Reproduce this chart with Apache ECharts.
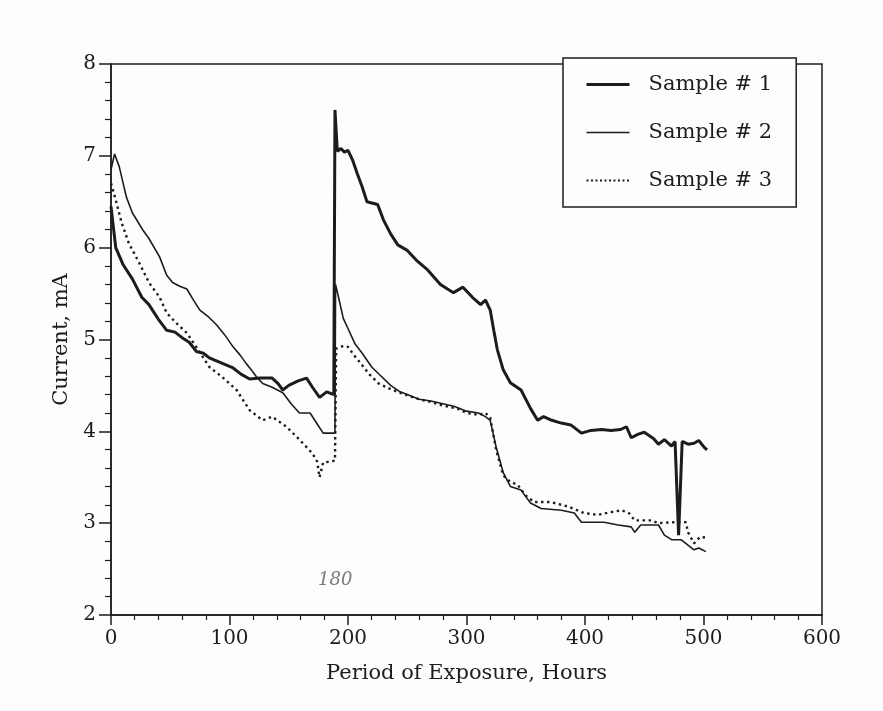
<!DOCTYPE html>
<html>
<head>
<meta charset="utf-8">
<script src="https://cdn.jsdelivr.net/npm/echarts@6/dist/echarts.min.js"></script>
<style>
  html, body { margin: 0; padding: 0; background: #fdfdfd; }
  #chart { width: 883px; height: 711px; }
</style>
</head>
<body>
<div id="chart"></div>
<script>
// hours / current (mA)
const s1Hours = [0, 4, 10, 18, 26, 32, 40, 47, 54, 60, 66, 72, 78, 83, 92, 103, 110, 117, 126, 136, 141, 145, 150, 158, 165, 170, 176, 182, 188, 189, 191, 194, 197, 200, 204, 208, 212, 216, 225, 230, 236, 242, 250, 258, 267, 278, 284, 289, 297, 305, 312, 316, 320, 323, 326, 331, 337, 346, 354, 360, 365, 372, 380, 388, 397, 405, 414, 422, 430, 435, 439, 445, 450, 458, 462, 467, 473, 476, 479, 482, 487, 492, 496, 501, 503];
const s1Current = [6.45, 6.0, 5.82, 5.66, 5.46, 5.38, 5.22, 5.1, 5.08, 5.02, 4.97, 4.87, 4.85, 4.8, 4.75, 4.69, 4.62, 4.57, 4.58, 4.58, 4.52, 4.45, 4.5, 4.55, 4.58, 4.48, 4.37, 4.43, 4.4, 7.5, 7.05, 7.08, 7.04, 7.06, 6.95, 6.8, 6.66, 6.5, 6.47, 6.3, 6.15, 6.03, 5.97, 5.86, 5.76, 5.6, 5.55, 5.51, 5.57, 5.46, 5.38, 5.43, 5.32, 5.1, 4.89, 4.67, 4.53, 4.45, 4.25, 4.12, 4.16, 4.12, 4.09, 4.07, 3.98, 4.01, 4.02, 4.01, 4.02, 4.05, 3.93, 3.97, 3.99, 3.92, 3.86, 3.91, 3.84, 3.89, 2.87, 3.89, 3.86, 3.87, 3.9, 3.82, 3.8];

const s2Hours = [0, 3, 7, 13, 18, 27, 32, 41, 47, 52, 58, 64, 70, 75, 82, 89, 96, 103, 109, 114, 119, 123, 128, 136, 145, 152, 159, 168, 174, 179, 189, 189.5, 192, 196, 200, 206, 212, 220, 228, 236, 244, 250, 260, 270, 280, 290, 300, 310, 316, 320, 325, 331, 337, 346, 354, 363, 380, 391, 397, 405, 416, 428, 439, 442, 447, 462, 467, 473, 481, 492, 496, 502];
const s2Current = [6.85, 7.02, 6.88, 6.55, 6.38, 6.19, 6.1, 5.9, 5.7, 5.62, 5.58, 5.55, 5.42, 5.32, 5.25, 5.16, 5.05, 4.92, 4.83, 4.74, 4.66, 4.59, 4.52, 4.48, 4.42, 4.3, 4.2, 4.2, 4.08, 3.98, 3.98, 5.6, 5.46, 5.23, 5.12, 4.95, 4.85, 4.7, 4.6, 4.5, 4.43, 4.4, 4.35, 4.33, 4.3, 4.27, 4.22, 4.2, 4.16, 4.12, 3.83, 3.55, 3.4, 3.36, 3.22, 3.16, 3.14, 3.11, 3.01, 3.01, 3.01, 2.98, 2.96, 2.9, 2.98, 2.98, 2.87, 2.82, 2.82, 2.71, 2.73, 2.69];

const s3Hours = [0, 4, 9, 15, 24, 32, 41, 47, 55, 64, 74, 83, 94, 106, 117, 128, 136, 148, 159, 170, 174, 176, 179, 189, 190, 196, 200, 205, 212, 218, 226, 236, 248, 260, 270, 280, 292, 300, 310, 316, 320, 325, 331, 337, 343, 350, 357, 371, 386, 399, 411, 422, 431, 437, 442, 456, 462, 473, 485, 487, 492, 497, 504];
const s3Current = [6.7, 6.52, 6.27, 6.05, 5.83, 5.62, 5.46, 5.29, 5.18, 5.07, 4.88, 4.7, 4.59, 4.45, 4.23, 4.12, 4.16, 4.05, 3.91, 3.76, 3.67, 3.5, 3.66, 3.68, 4.9, 4.93, 4.92, 4.83, 4.72, 4.62, 4.52, 4.46, 4.4, 4.35, 4.32, 4.28, 4.25, 4.2, 4.18, 4.2, 4.15, 3.8, 3.52, 3.45, 3.42, 3.3, 3.23, 3.23, 3.18, 3.11, 3.09, 3.12, 3.14, 3.11, 3.03, 3.03, 3.0, 3.01, 3.01, 2.9, 2.78, 2.85, 2.84];

const seriesNames = ["Sample # 1", "Sample # 2", "Sample # 3"];

function pairs(xs, ys) {
  return xs.map((x, i) => [x, ys[i]]);
}

const ink = "#1c1c1c";
const font = "'DejaVu Serif', 'Liberation Serif', serif";

const thick = { color: ink, width: 3 };
const thin = { color: ink, width: 1.6 };
const dots = { color: ink, width: 2.4, type: [2.4, 3.6] };

var myChart = echarts.init(document.getElementById("chart"));
let option = {
  backgroundColor: "#fdfdfd",
  animation: false,
  textStyle: { fontFamily: font, color: ink },
  grid: {
    left: 111,
    right: 61,
    top: 64,
    bottom: 96,
    show: true,
    borderColor: ink,
    borderWidth: 1.5
  },
  legend: {
    orient: "vertical",
    left: 563,
    top: 58,
    padding: [16, 24, 16, 22],
    itemWidth: 43,
    itemHeight: 20,
    itemGap: 27,
    borderColor: ink,
    borderWidth: 1.5,
    backgroundColor: "#fdfdfd",
    itemStyle: { opacity: 0 },
    textStyle: { fontFamily: font, fontSize: 21, color: ink, padding: [0, 0, 0, 14] },
    data: [
      { name: seriesNames[0], lineStyle: { width: 3, color: ink } },
      { name: seriesNames[1], lineStyle: { width: 1.6, color: ink } },
      { name: seriesNames[2], lineStyle: { width: 2, color: ink, type: [2, 2.5] } }
    ]
  },
  xAxis: {
    type: "value",
    min: 0,
    max: 600,
    interval: 100,
    name: "Period of Exposure, Hours",
    nameLocation: "middle",
    nameGap: 48,
    nameTextStyle: { fontFamily: font, fontSize: 21, color: ink },
    axisLine: { lineStyle: { color: ink, width: 1.5 } },
    axisTick: { length: 10, lineStyle: { color: ink, width: 1.5 } },
    minorTick: { show: true, splitNumber: 5, length: 5, lineStyle: { color: ink, width: 1.2 } },
    axisLabel: { fontFamily: font, fontSize: 20, color: ink, margin: 14 },
    splitLine: { show: false }
  },
  yAxis: {
    type: "value",
    min: 2,
    max: 8,
    interval: 1,
    name: "Current, mA",
    nameLocation: "middle",
    nameGap: 39,
    nameTextStyle: { fontFamily: font, fontSize: 21, color: ink },
    axisLine: { lineStyle: { color: ink, width: 1.5 } },
    axisTick: { length: 12, lineStyle: { color: ink, width: 1.5 } },
    minorTick: { show: true, splitNumber: 5, length: 6, lineStyle: { color: ink, width: 1.2 } },
    axisLabel: { fontFamily: font, fontSize: 20, color: ink, margin: 15 },
    splitLine: { show: false }
  },
  graphic: [
    {
      type: "text",
      left: 318,
      top: 571,
      style: { text: "180", fontFamily: font, fontStyle: "italic", fontSize: 18, fill: "#7a7a7a" }
    }
  ],
  series: [
    {
      name: seriesNames[0],
      type: "line",
      symbol: "none",
      lineStyle: thick,
      itemStyle: { color: ink },
      data: pairs(s1Hours, s1Current)
    },
    {
      name: seriesNames[1],
      type: "line",
      symbol: "none",
      lineStyle: thin,
      itemStyle: { color: ink },
      data: pairs(s2Hours, s2Current)
    },
    {
      name: seriesNames[2],
      type: "line",
      symbol: "none",
      lineStyle: dots,
      itemStyle: { color: ink },
      data: pairs(s3Hours, s3Current)
    }
  ]
};
myChart.setOption(option);
</script>
</body>
</html>
